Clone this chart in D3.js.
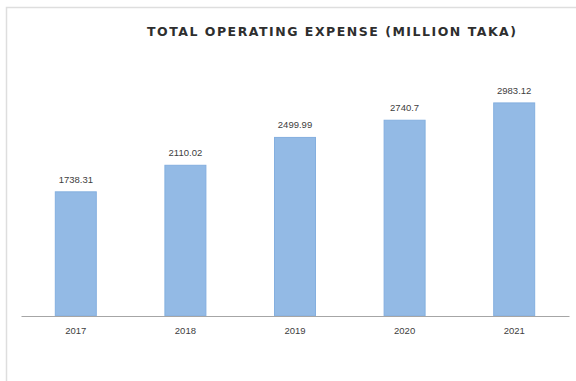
<!DOCTYPE html>
<html>
<head>
<meta charset="utf-8">
<script src="https://cdn.jsdelivr.net/npm/d3@7"></script>
<style>
  html, body { margin: 0; padding: 0; background: #fff; }
  svg { display: block; }
</style>
</head>
<body>
<div id="chart"></div>
<script>
// Total operating expense per year, million Taka
const years = ["2017", "2018", "2019", "2020", "2021"];
const expenses = [1738.31, 2110.02, 2499.99, 2740.7, 2983.12];
const valueLabels = ["1738.31", "2110.02", "2499.99", "2740.7", "2983.12"];
const chartTitle = "TOTAL OPERATING EXPENSE (MILLION TAKA)";

const width = 576, height = 381;
const margin = { left: 21, right: 7, top: 66, bottom: 65 };

const svg = d3.select("#chart").append("svg")
  .attr("width", width)
  .attr("height", height);

// Outer frame (only left and top edges fall inside the view)
svg.append("path")
  .attr("d", d3.line()([[6.5, height + 2], [6.5, 7.5], [width + 2, 7.5]]))
  .attr("fill", "none")
  .attr("stroke", "#dedede")
  .attr("stroke-width", 1.5);

const x = d3.scaleBand()
  .domain(years)
  .range([margin.left, width - margin.right])
  .paddingInner(0.626)
  .paddingOuter(0.313);

const y = d3.scaleLinear()
  .domain([0, 3500])
  .range([height - margin.bottom, margin.top]);

// Bars
svg.append("g")
  .selectAll("rect")
  .data(expenses)
  .join("rect")
  .attr("x", (d, i) => x(years[i]))
  .attr("y", d => y(d))
  .attr("width", x.bandwidth())
  .attr("height", d => y(0) - y(d))
  .attr("fill", "#93bae5")
  .attr("stroke", "#84afdf")
  .attr("stroke-width", 1);

// Value labels above the bars
svg.append("g")
  .selectAll("text")
  .data(expenses)
  .join("text")
  .attr("x", (d, i) => x(years[i]) + x.bandwidth() / 2)
  .attr("y", d => y(d) - 9)
  .attr("text-anchor", "middle")
  .attr("font-family", "'Liberation Sans', Arial, sans-serif")
  .attr("font-size", 9.5)
  .attr("fill", "#404040")
  .text((d, i) => valueLabels[i]);

// Category axis
const xAxis = svg.append("g")
  .attr("transform", `translate(0,${y(0)})`)
  .call(d3.axisBottom(x).tickSize(0).tickPadding(11));
xAxis.select(".domain")
  .attr("stroke", "#a6a6a6")
  .attr("stroke-width", 1.2);
xAxis.selectAll("text")
  .attr("font-family", "'Liberation Sans', Arial, sans-serif")
  .attr("font-size", 9.5)
  .attr("fill", "#404040");

// Title
svg.append("text")
  .attr("x", 147)
  .attr("y", 36)
  .attr("textLength", 369)
  .attr("lengthAdjust", "spacing")
  .attr("font-family", "'DejaVu Sans', sans-serif")
  .attr("font-weight", "bold")
  .attr("font-size", 12.5)
  .attr("fill", "#2e2e2e")
  .text(chartTitle);
</script>
</body>
</html>
